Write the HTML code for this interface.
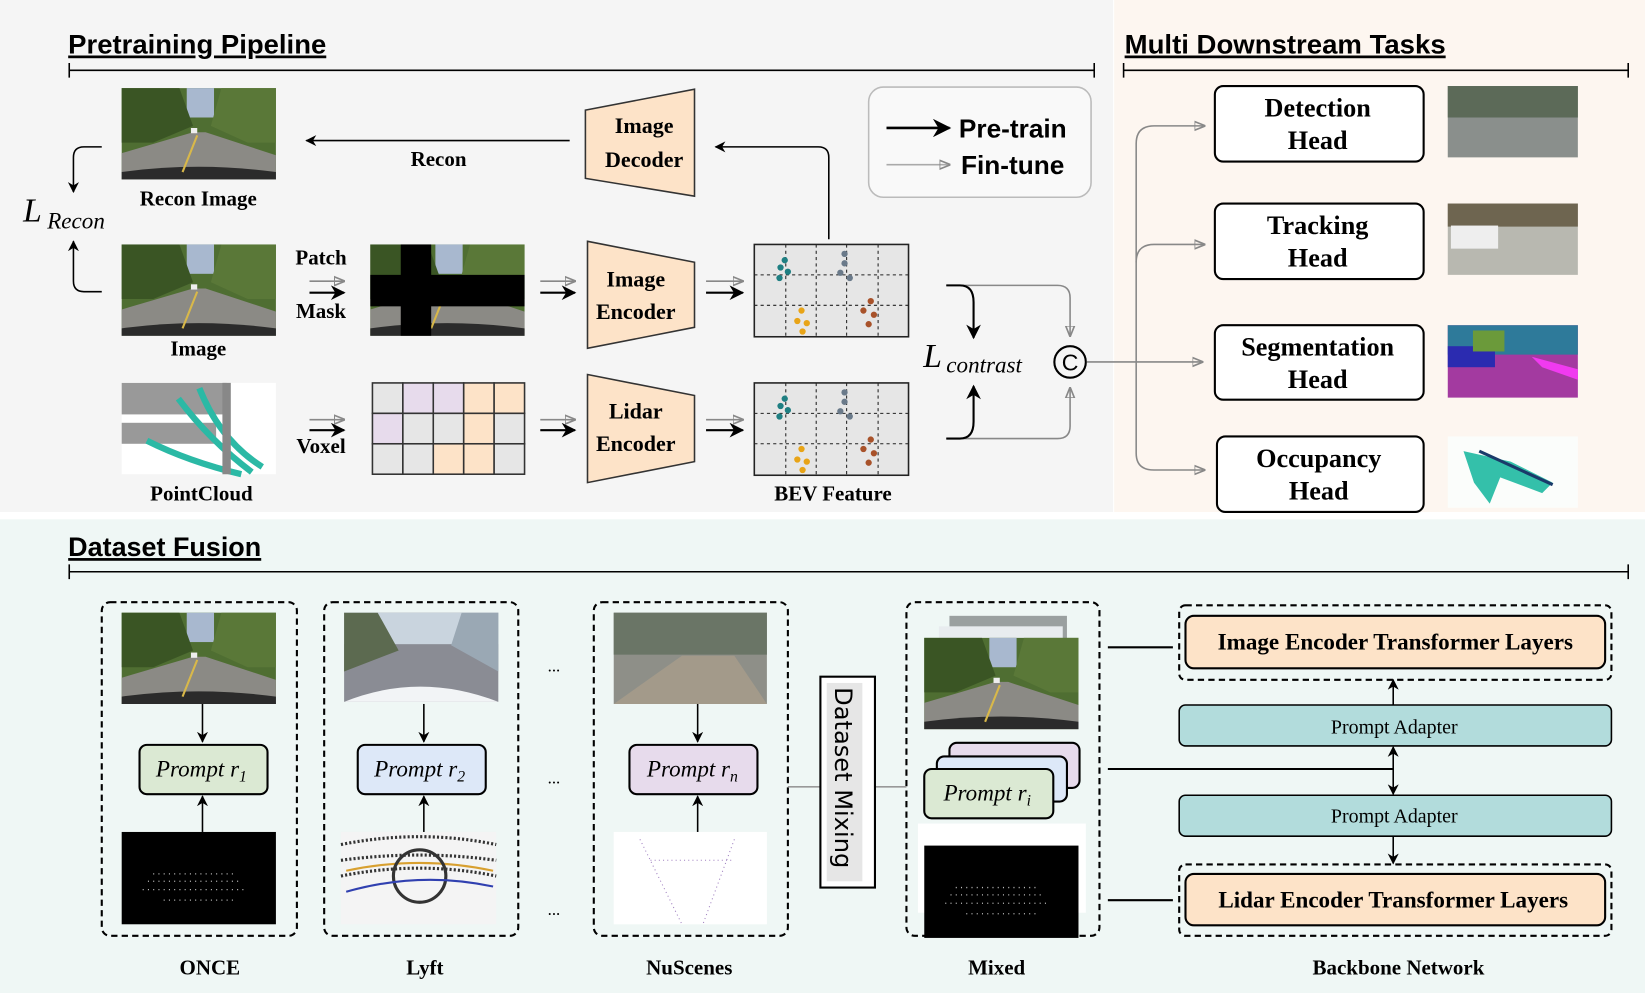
<!DOCTYPE html>
<html><head><meta charset="utf-8"><style>
html,body{margin:0;padding:0;background:#fff;overflow:hidden}
svg{display:block}
.h{font-family:"Liberation Sans",sans-serif;font-weight:bold;font-size:26px;text-decoration:underline}
.s{font-family:"Liberation Serif",serif;font-weight:bold}
.i{font-family:"Liberation Serif",serif;font-style:italic}
</style></head><body>
<svg width="1645" height="993" viewBox="0 0 1568 946.5" preserveAspectRatio="none" xmlns="http://www.w3.org/2000/svg">
<defs>
<marker id="ab" viewBox="0 0 10 10" refX="9" refY="5" markerWidth="7" markerHeight="7" orient="auto-start-reverse"><path d="M0,0L10,5L0,10L3,5z" fill="#000"/></marker>
<marker id="ag" viewBox="0 0 10 10" refX="9" refY="5" markerWidth="7" markerHeight="7" orient="auto-start-reverse"><path d="M0,1L10,5L0,9z" fill="none" stroke="#888" stroke-width="1.5"/></marker>
<g id="road">
<rect width="147" height="87" fill="#4f6e32"/>
<rect x="62" y="0" width="26" height="28" fill="#a8b8cf"/>
<path d="M0,0H55L68,36L30,52H0z" fill="#3a5524"/>
<path d="M147,0H95L85,36L120,52H147z" fill="#5a7838"/>
<path d="M0,62L68,42H80L147,64V87H0z" fill="#8b8a85"/>
<path d="M0,80Q73,70 147,80V87H0z" fill="#2b2b2b"/>
<path d="M72,45L58,80" stroke="#d8b84a" stroke-width="2"/>
<rect x="66" y="38" width="6" height="5" fill="#eee"/>
</g>
<g id="bev">
<rect width="147" height="88" fill="#e6e6e6" stroke="#222" stroke-width="1.5"/>
<path d="M30,0V88M59,0V88M88,0V88M118,0V88M0,29H147M0,58H147" stroke="#222" stroke-dasharray="3,3" stroke-width="1"/>
<circle cx="29" cy="15" r="3" fill="#1f7f82"/><circle cx="25" cy="22" r="3" fill="#1f7f82"/><circle cx="32" cy="26" r="3" fill="#1f7f82"/><circle cx="24" cy="32" r="3" fill="#1f7f82"/>
<circle cx="86" cy="9" r="3" fill="#6a7a8a"/><circle cx="86" cy="18" r="3" fill="#6a7a8a"/><circle cx="82" cy="27" r="3" fill="#6a7a8a"/><circle cx="91" cy="32" r="3" fill="#6a7a8a"/>
<circle cx="45" cy="63" r="3" fill="#e8a417"/><circle cx="41" cy="73" r="3" fill="#e8a417"/><circle cx="50" cy="75" r="3" fill="#e8a417"/><circle cx="46" cy="83" r="3" fill="#e8a417"/>
<circle cx="111" cy="54" r="3" fill="#a8522a"/><circle cx="104" cy="63" r="3" fill="#a8522a"/><circle cx="114" cy="67" r="3" fill="#a8522a"/><circle cx="109" cy="76" r="3" fill="#a8522a"/>
</g>
<g id="lidblack"><rect width="147" height="88" fill="#000"/>
<path d="M30,40h80M20,55h100M40,65h70M25,47h90" stroke="#bbb" stroke-dasharray="1,4" stroke-width="1.2"/></g>
</defs>

<rect x="0" y="0" width="1061" height="488" fill="#f5f5f5"/>
<rect x="1062" y="0" width="506" height="488" fill="#fdf6f0"/>
<rect x="0" y="495" width="1568" height="452" fill="#eff7f5"/>

<text x="65" y="51" class="h" textLength="246" lengthAdjust="spacingAndGlyphs">Pretraining Pipeline</text>
<path d="M66,67H1043M66,60V74M1043,60V74" stroke="#000" stroke-width="1.5"/>
<text x="1072" y="51" class="h" textLength="306" lengthAdjust="spacingAndGlyphs">Multi Downstream Tasks</text>
<path d="M1071,67H1552M1071,60V74M1552,60V74" stroke="#000" stroke-width="1.5"/>

<use href="#road" x="116" y="84"/>
<text x="189" y="196" class="s" font-size="20" text-anchor="middle">Recon Image</text>
<use href="#road" x="116" y="233"/>
<text x="189" y="339" class="s" font-size="20" text-anchor="middle">Image</text>
<text x="22" y="211" class="i" font-size="32">L</text><text x="45" y="218" class="i" font-size="22">Recon</text>
<path d="M97,140H80Q70,140 70,150V183" fill="none" stroke="#000" stroke-width="1.5" marker-end="url(#ab)"/>
<path d="M97,278H80Q70,278 70,268V230" fill="none" stroke="#000" stroke-width="1.5" marker-end="url(#ab)"/>

<text x="306" y="252" class="s" font-size="20" text-anchor="middle">Patch</text>
<text x="306" y="303" class="s" font-size="20" text-anchor="middle">Mask</text>
<path d="M295,268H328" stroke="#888" stroke-width="1.5" marker-end="url(#ag)"/>
<path d="M295,279H328" stroke="#000" stroke-width="2" marker-end="url(#ab)"/>

<use href="#road" x="353" y="233"/>
<rect x="382" y="233" width="29" height="87" fill="#000"/>
<rect x="353" y="262" width="147" height="30" fill="#000"/>

<path d="M515,268H548" stroke="#888" stroke-width="1.5" marker-end="url(#ag)"/>
<path d="M515,279H548" stroke="#000" stroke-width="2" marker-end="url(#ab)"/>
<path d="M560,230L662,250V312L560,332z" fill="#fde3c8" stroke="#333" stroke-width="1.5"/>
<text x="606" y="273" class="s" font-size="21" text-anchor="middle">Image</text>
<text x="606" y="304" class="s" font-size="21" text-anchor="middle">Encoder</text>
<path d="M673,268H708" stroke="#888" stroke-width="1.5" marker-end="url(#ag)"/>
<path d="M673,279H708" stroke="#000" stroke-width="2" marker-end="url(#ab)"/>
<use href="#bev" x="719" y="233"/>

<path d="M558,105L662,85V187L558,170z" fill="#fde3c8" stroke="#333" stroke-width="1.5"/>
<text x="614" y="127" class="s" font-size="21" text-anchor="middle">Image</text>
<text x="614" y="159" class="s" font-size="21" text-anchor="middle">Decoder</text>
<path d="M790,228V150Q790,140 780,140H682" fill="none" stroke="#000" stroke-width="1.5" marker-end="url(#ab)"/>
<path d="M543,134H292" stroke="#000" stroke-width="1.5" marker-end="url(#ab)"/>
<text x="418" y="158" class="s" font-size="20" text-anchor="middle">Recon</text>

<rect x="828" y="83" width="212" height="105" rx="14" fill="#f9f9f9" stroke="#bbb" stroke-width="1.5"/>
<path d="M845,122H905" stroke="#000" stroke-width="2.5" marker-end="url(#ab)"/>
<text x="914" y="131" font-family="Liberation Sans,sans-serif" font-weight="bold" font-size="25">Pre-train</text>
<path d="M845,157H905" stroke="#aaa" stroke-width="1.5" marker-end="url(#ag)"/>
<text x="916" y="166" font-family="Liberation Sans,sans-serif" font-weight="bold" font-size="25">Fin-tune</text>

<rect x="116" y="365" width="147" height="87" fill="#fff"/>
<rect x="116" y="365" width="100" height="30" fill="#999"/>
<rect x="116" y="403" width="90" height="20" fill="#999"/>
<path d="M170,380Q200,420 240,450M190,370Q210,420 250,445M140,420Q180,440 230,452" stroke="#2bb9a5" stroke-width="6" fill="none"/>
<path d="M216,365V452" stroke="#888" stroke-width="8"/>
<text x="192" y="477" class="s" font-size="20" text-anchor="middle">PointCloud</text>
<path d="M295,400H328" stroke="#888" stroke-width="1.5" marker-end="url(#ag)"/>
<path d="M295,410H328" stroke="#000" stroke-width="2" marker-end="url(#ab)"/>
<text x="306" y="432" class="s" font-size="20" text-anchor="middle">Voxel</text>
<g stroke="#333" stroke-width="1.5">
<rect x="355" y="365" width="29" height="29" fill="#e6e6e6"/><rect x="384" y="365" width="29" height="29" fill="#e7dbec"/><rect x="413" y="365" width="29" height="29" fill="#e7dbec"/><rect x="442" y="365" width="29" height="29" fill="#fde3c8"/><rect x="471" y="365" width="29" height="29" fill="#fde3c8"/>
<rect x="355" y="394" width="29" height="29" fill="#e7dbec"/><rect x="384" y="394" width="29" height="29" fill="#e6e6e6"/><rect x="413" y="394" width="29" height="29" fill="#e6e6e6"/><rect x="442" y="394" width="29" height="29" fill="#fde3c8"/><rect x="471" y="394" width="29" height="29" fill="#e6e6e6"/>
<rect x="355" y="423" width="29" height="29" fill="#e6e6e6"/><rect x="384" y="423" width="29" height="29" fill="#e6e6e6"/><rect x="413" y="423" width="29" height="29" fill="#fde3c8"/><rect x="442" y="423" width="29" height="29" fill="#fde3c8"/><rect x="471" y="423" width="29" height="29" fill="#e6e6e6"/>
</g>
<path d="M515,400H548" stroke="#888" stroke-width="1.5" marker-end="url(#ag)"/>
<path d="M515,410H548" stroke="#000" stroke-width="2" marker-end="url(#ab)"/>
<path d="M560,357L662,377V440L560,460z" fill="#fde3c8" stroke="#333" stroke-width="1.5"/>
<text x="606" y="399" class="s" font-size="21" text-anchor="middle">Lidar</text>
<text x="606" y="430" class="s" font-size="21" text-anchor="middle">Encoder</text>
<path d="M673,400H708" stroke="#888" stroke-width="1.5" marker-end="url(#ag)"/>
<path d="M673,410H708" stroke="#000" stroke-width="2" marker-end="url(#ab)"/>
<use href="#bev" x="719" y="365"/>
<text x="794" y="477" class="s" font-size="20" text-anchor="middle">BEV Feature</text>

<path d="M902,272H1008Q1020,272 1020,284V320" fill="none" stroke="#888" stroke-width="1.5" marker-end="url(#ag)"/>
<path d="M902,418H1008Q1020,418 1020,406V370" fill="none" stroke="#888" stroke-width="1.5" marker-end="url(#ag)"/>
<path d="M902,272H915Q928,272 928,288V322" fill="none" stroke="#000" stroke-width="2" marker-end="url(#ab)"/>
<path d="M902,418H915Q928,418 928,402V368" fill="none" stroke="#000" stroke-width="2" marker-end="url(#ab)"/>
<text x="880" y="350" class="i" font-size="32">L</text><text x="902" y="355" class="i" font-size="22">contrast</text>
<circle cx="1020" cy="345" r="15" fill="none" stroke="#000" stroke-width="2"/>
<text x="1020" y="353" font-family="Liberation Sans,sans-serif" font-size="22" text-anchor="middle">C</text>
<path d="M1036,345H1146" stroke="#888" stroke-width="1.5" marker-end="url(#ag)"/>
<path d="M1148,120H1100Q1083,120 1083,137V432Q1083,448 1100,448H1148" fill="none" stroke="#888" stroke-width="1.5" marker-start="url(#ag)" marker-end="url(#ag)"/>
<path d="M1083,250Q1083,233 1100,233H1148" fill="none" stroke="#888" stroke-width="1.5" marker-end="url(#ag)"/>

<g fill="#fff" stroke="#000" stroke-width="2">
<rect x="1158" y="82" width="199" height="72" rx="8"/>
<rect x="1158" y="194" width="199" height="72" rx="8"/>
<rect x="1158" y="310" width="199" height="71" rx="8"/>
<rect x="1160" y="416" width="197" height="72" rx="8"/>
</g>
<g class="s" font-size="25" text-anchor="middle">
<text x="1256" y="111">Detection</text><text x="1256" y="142">Head</text>
<text x="1256" y="223">Tracking</text><text x="1256" y="254">Head</text>
<text x="1256" y="339">Segmentation</text><text x="1256" y="370">Head</text>
<text x="1257" y="445">Occupancy</text><text x="1257" y="476">Head</text>
</g>
<rect x="1380" y="82" width="124" height="68" fill="#8a8f8c"/><rect x="1380" y="82" width="124" height="30" fill="#5c6a58"/>
<rect x="1380" y="194" width="124" height="68" fill="#b8b8b0"/><rect x="1380" y="194" width="124" height="22" fill="#6e6550"/><rect x="1383" y="215" width="45" height="22" fill="#eee"/>
<rect x="1380" y="310" width="124" height="69" fill="#a33aa0"/><rect x="1380" y="310" width="124" height="28" fill="#2e7a9a"/><rect x="1380" y="330" width="45" height="20" fill="#2b2bb0"/><rect x="1404" y="315" width="30" height="20" fill="#6b9a3a"/><path d="M1460,340L1504,352V362L1470,350z" fill="#f03af0"/>
<rect x="1380" y="416" width="124" height="68" fill="#fbfdfb"/><path d="M1395,430L1440,440L1480,460L1470,470L1430,455L1420,480L1405,460z" fill="#34c0aa"/><path d="M1410,430L1480,462" stroke="#1a3a6a" stroke-width="3"/>

<text x="65" y="530" class="h" textLength="184" lengthAdjust="spacingAndGlyphs">Dataset Fusion</text>
<path d="M66,545H1552M66,538V552M1552,538V552" stroke="#000" stroke-width="1.5"/>

<g fill="none" stroke="#000" stroke-width="2" stroke-dasharray="6,4">
<rect x="97" y="574" width="186" height="318" rx="8"/>
<rect x="309" y="574" width="185" height="318" rx="8"/>
<rect x="566" y="574" width="185" height="318" rx="8"/>
<rect x="864" y="574" width="184" height="318" rx="8"/>
</g>
<use href="#road" x="116" y="584"/>
<rect x="328" y="584" width="147" height="85" fill="#8a8c94"/><rect x="328" y="584" width="147" height="30" fill="#c9d4de"/><path d="M328,584H360L380,620L328,640z" fill="#5c6a50"/><path d="M440,584H475V640L430,615z" fill="#9aa8b4"/><path d="M328,669Q400,640 475,669z" fill="#f2f4f6"/>
<rect x="585" y="584" width="146" height="87" fill="#8e8f88"/><rect x="585" y="584" width="146" height="40" fill="#6a7566"/><path d="M585,671L650,625H700L731,671z" fill="#a39a8a"/>
<use href="#lidblack" x="116" y="793"/>
<rect x="325" y="793" width="148" height="88" fill="#f4f4f4"/><path d="M325,805Q400,790 473,805M325,820Q400,810 473,820M325,835Q400,820 473,835" stroke="#333" stroke-width="3" fill="none" stroke-dasharray="2,2"/><path d="M330,830Q400,815 470,830" stroke="#d8a030" stroke-width="2" fill="none"/><circle cx="400" cy="835" r="25" fill="none" stroke="#333" stroke-width="3"/><path d="M330,850Q400,830 470,845" stroke="#3040b0" stroke-width="2" fill="none"/>
<rect x="585" y="793" width="146" height="88" fill="#fff"/><path d="M610,800L650,881M700,800L670,881M620,820L700,820" stroke="#a080c0" stroke-width="1" stroke-dasharray="1,3"/>
<g stroke="#000" stroke-width="1.5">
<path d="M193,671V707" marker-end="url(#ab)"/><path d="M193,793V759" marker-end="url(#ab)"/>
<path d="M404,671V707" marker-end="url(#ab)"/><path d="M404,793V759" marker-end="url(#ab)"/>
<path d="M665,671V707" marker-end="url(#ab)"/><path d="M665,793V759" marker-end="url(#ab)"/>
</g>
<g stroke="#000" stroke-width="2">
<rect x="133" y="710" width="122" height="47" rx="7" fill="#dbe9d3"/>
<rect x="341" y="710" width="122" height="47" rx="7" fill="#dde8f8"/>
<rect x="600" y="710" width="122" height="47" rx="7" fill="#e7dbec"/>
</g>
<g class="i" font-size="22" text-anchor="middle">
<text x="192" y="740">Prompt r<tspan font-size="15" dy="5">1</tspan></text>
<text x="400" y="740">Prompt r<tspan font-size="15" dy="5">2</tspan></text>
<text x="660" y="740">Prompt r<tspan font-size="15" dy="5">n</tspan></text>
</g>
<g font-family="Liberation Serif,serif" font-size="16" text-anchor="middle"><text x="528" y="640">...</text><text x="528" y="747">...</text><text x="528" y="872">...</text></g>

<path d="M751,750H782M834,750H864" stroke="#999" stroke-width="1.5"/>
<rect x="782" y="645" width="52" height="201" fill="#fff" stroke="#000" stroke-width="2"/>
<rect x="788" y="651" width="34" height="189" fill="#e6e6e6"/>
<text transform="translate(796,655) rotate(90)" font-family="DejaVu Sans,sans-serif" font-size="23">Dataset Mixing</text>

<rect x="905" y="587" width="112" height="72" fill="#9aa0a0"/>
<rect x="895" y="597" width="118" height="70" fill="#e8ecef"/>
<use href="#road" x="881" y="608"/>
<g stroke="#000" stroke-width="2">
<rect x="905" y="708" width="124" height="43" rx="7" fill="#e7dbec"/>
<rect x="893" y="721" width="124" height="43" rx="7" fill="#dde8f8"/>
<rect x="881" y="733" width="123" height="47" rx="7" fill="#dbe9d3"/>
</g>
<text x="941" y="763" class="i" font-size="22" text-anchor="middle">Prompt r<tspan font-size="15" dy="5">i</tspan></text>
<rect x="875" y="785" width="160" height="85" fill="#fff"/>
<use href="#lidblack" x="881" y="806"/>
<path d="M1056,617H1118M1056,733H1328M1056,858H1118" stroke="#000" stroke-width="2"/>

<rect x="1124" y="577" width="412" height="71" rx="6" fill="none" stroke="#000" stroke-width="2" stroke-dasharray="6,4"/>
<rect x="1130" y="587" width="400" height="50" rx="8" fill="#fde3c8" stroke="#000" stroke-width="2"/>
<text x="1330" y="619" class="s" font-size="22" text-anchor="middle">Image Encoder Transformer Layers</text>
<rect x="1124" y="672" width="412" height="39" rx="6" fill="#b2dcdc" stroke="#000" stroke-width="1.5"/>
<text x="1329" y="699" font-family="Liberation Serif,serif" font-size="19" text-anchor="middle">Prompt Adapter</text>
<rect x="1124" y="758" width="412" height="39" rx="6" fill="#b2dcdc" stroke="#000" stroke-width="1.5"/>
<text x="1329" y="784" font-family="Liberation Serif,serif" font-size="19" text-anchor="middle">Prompt Adapter</text>
<rect x="1124" y="824" width="412" height="68" rx="6" fill="none" stroke="#000" stroke-width="2" stroke-dasharray="6,4"/>
<rect x="1130" y="833" width="400" height="49" rx="8" fill="#fde3c8" stroke="#000" stroke-width="2"/>
<text x="1328" y="865" class="s" font-size="22" text-anchor="middle">Lidar Encoder Transformer Layers</text>
<g stroke="#000" stroke-width="1.5">
<path d="M1328,672V648" marker-end="url(#ab)"/>
<path d="M1328,733V712" marker-end="url(#ab)"/>
<path d="M1328,733V757" marker-end="url(#ab)"/>
<path d="M1328,797V823" marker-end="url(#ab)"/>
</g>

<g class="s" font-size="20" text-anchor="middle">
<text x="200" y="929">ONCE</text><text x="405" y="929">Lyft</text><text x="657" y="929">NuScenes</text><text x="950" y="929">Mixed</text><text x="1333" y="929">Backbone Network</text>
</g>
</svg>
</body></html>
